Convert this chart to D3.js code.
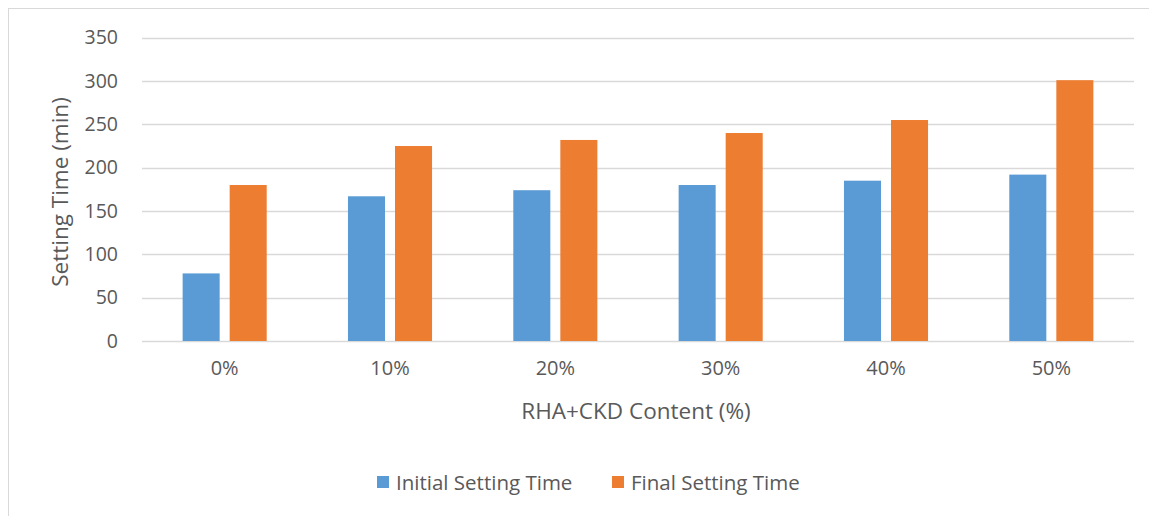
<!DOCTYPE html>
<html>
<head>
<meta charset="utf-8">
<script src="https://cdn.jsdelivr.net/npm/d3@7"></script>
<style>
  html, body { margin: 0; padding: 0; background: #fff; }
  svg { display: block; }
  text { font-family: "Open Sans", "Liberation Sans", sans-serif; fill: #595959; }
</style>
</head>
<body>
<svg id="chart" width="1149" height="516"></svg>
<script>
// Setting time of blended mixes by RHA+CKD replacement level
const categories = ["0%", "10%", "20%", "30%", "40%", "50%"];
const seriesNames = ["Initial Setting Time", "Final Setting Time"];
const initialSetting = [78, 167, 174, 180, 185, 192];
const finalSetting = [180, 225, 232, 240, 255, 301];
const yTicks = [0, 50, 100, 150, 200, 250, 300, 350];
const colors = ["#5B9BD5", "#ED7D31"];

const svg = d3.select("#chart");
const W = 1149, H = 516;

// outer chart frame
svg.append("rect")
  .attr("x", 8.5).attr("y", 8.5)
  .attr("width", W + 10).attr("height", H + 10)
  .attr("fill", "#fff").attr("stroke", "#D9D9D9").attr("stroke-width", 1);

const plot = { left: 142, right: 1134, top: 37.7, bottom: 341 };

const x = d3.scaleBand()
  .domain(categories)
  .range([plot.left, plot.right]);

const y = d3.scaleLinear()
  .domain([0, 350])
  .range([plot.bottom, plot.top]);

// bar width and spacing inside each category
const barW = x.bandwidth() * 0.224;
const innerGap = barW * 0.27;
const groupW = barW * 2 + innerGap;

// gridlines
svg.append("g")
  .selectAll("line")
  .data(yTicks)
  .join("line")
  .attr("x1", plot.left).attr("x2", plot.right)
  .attr("y1", d => Math.round(y(d)) + 0.5)
  .attr("y2", d => Math.round(y(d)) + 0.5)
  .attr("stroke", "#D9D9D9")
  .attr("stroke-width", 1.3);

// y axis labels
const yAxis = d3.axisLeft(y).tickValues(yTicks).tickSize(0).tickPadding(0);
const gy = svg.append("g").attr("transform", `translate(${plot.left - 24},0)`).call(yAxis);
gy.select(".domain").remove();
gy.selectAll("text")
  .attr("font-size", 19.5)
  .attr("font-family", "Open Sans, Liberation Sans, sans-serif")
  .attr("fill", "#595959");

// x axis labels
const xAxis = d3.axisBottom(x).tickSize(0).tickPadding(0);
const gx = svg.append("g").attr("transform", `translate(0,${plot.bottom + 20})`).call(xAxis);
gx.select(".domain").remove();
gx.selectAll("text")
  .attr("font-size", 20)
  .attr("font-family", "Open Sans, Liberation Sans, sans-serif")
  .attr("fill", "#595959");

// bars
const rows = categories.map((c, i) => ({ c, vals: [initialSetting[i], finalSetting[i]] }));
const groups = svg.append("g")
  .selectAll("g")
  .data(rows)
  .join("g")
  .attr("transform", d => `translate(${x(d.c) + x.bandwidth() / 2 - groupW / 2},0)`);

groups.selectAll("rect")
  .data(d => d.vals.map((v, k) => ({ v, k })))
  .join("rect")
  .attr("x", d => d.k * (barW + innerGap))
  .attr("y", d => y(d.v))
  .attr("width", barW)
  .attr("height", d => y(0) - y(d.v))
  .attr("fill", d => colors[d.k]);

// axis titles
svg.append("text")
  .attr("x", 636)
  .attr("y", 419)
  .attr("text-anchor", "middle")
  .attr("font-size", 22.5)
  .attr("fill", "#404040")
  .text("RHA+CKD Content (%)");

svg.append("text")
  .attr("transform", `translate(68,192) rotate(-90)`)
  .attr("text-anchor", "middle")
  .attr("font-size", 22.5)
  .attr("fill", "#404040")
  .text("Setting Time (min)");

// legend
const legendX = [377, 612];
const legend = svg.append("g")
  .selectAll("g")
  .data(seriesNames)
  .join("g")
  .attr("transform", (d, i) => `translate(${legendX[i]},482)`);
legend.append("rect")
  .attr("x", 0).attr("y", -6)
  .attr("width", 12).attr("height", 12)
  .attr("fill", (d, i) => colors[i]);
legend.append("text")
  .attr("x", 19).attr("y", 7.5)
  .attr("font-size", 20.5)
  .text(d => d);
</script>
</body>
</html>
